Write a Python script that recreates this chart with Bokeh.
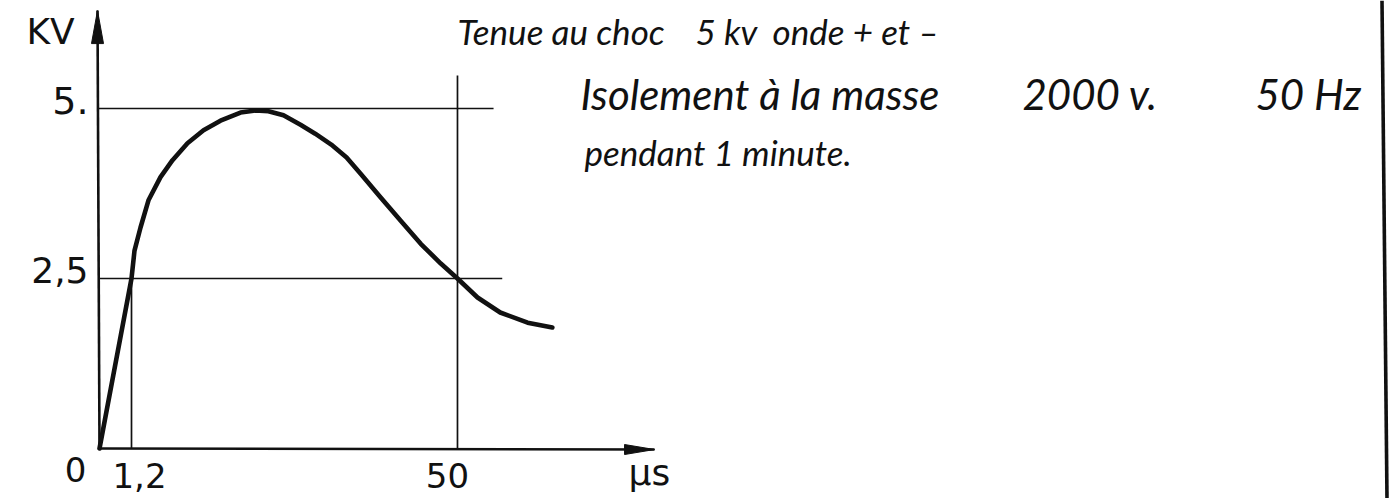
from bokeh.plotting import figure
from bokeh.models import Range1d, Label
from bokeh.embed import file_html
from bokeh.resources import INLINE

# ---------------- data ----------------
# impulse wave: time in microseconds, voltage in kV
t_us = [0, 1.2, 1.65, 2.55, 3.74, 5.54, 7.34, 9.58, 11.98, 14.52, 17.52, 19.76,
        21.7, 23.95, 26.5, 28.7, 31.1, 33.4, 35.5, 38.5, 41.5, 44.5, 47.5, 50.0,
        53.0, 56.4, 60.5, 64.2]
kv = [0, 2.5, 2.91, 3.25, 3.65, 3.99, 4.24, 4.49, 4.68, 4.82, 4.94, 4.97,
      4.96, 4.90, 4.76, 4.63, 4.47, 4.28, 4.04, 3.69, 3.35, 3.01, 2.72, 2.5,
      2.22, 2.0, 1.85, 1.78]

x_ticks = [0, 1.2, 50]
x_tick_labels = ["0", "1,2", "50"]
y_ticks = [2.5, 5]
y_tick_labels = ["2,5", "5."]
x_unit = "\u00b5s"
y_unit = "KV"

notes_line1 = ["Tenue au choc", "5 kv", "onde + et \u2013"]
notes_line2 = ["Isolement \u00e0 la masse", "2000 v.", "50 Hz"]
notes_line3 = ["pendant 1 minute."]

# ---------------- schematic (non-linear) time scale ----------------
FRONT_W = 32.0      # drawing width of the 0 .. 1.2 us front
TAIL_K = 6.68       # drawing units per us after 1.2 us
PX_PER_KV = 68.0


def pos(t):
    if t <= 1.2:
        return t / 1.2 * FRONT_W
    return FRONT_W + (t - 1.2) * TAIL_K


W, H = 1398, 498
X0, Y0 = 99, 448     # where the origin sits in the drawing
p = figure(width=W, height=H, output_backend="svg", toolbar_location=None,
           x_range=Range1d(-X0, W - X0),
           y_range=Range1d(-(H - Y0) / PX_PER_KV, Y0 / PX_PER_KV),
           x_axis_type=None, y_axis_type=None, min_border=0)
p.outline_line_color = None
p.xgrid.visible = False
p.ygrid.visible = False
p.background_fill_color = "white"
p.border_fill_color = "white"

INK = "#111111"

# guide lines at 5 and 2.5 kV, verticals at 1.2 and 50 us
p.segment(x0=[pos(0) - 2, pos(0)], y0=[5, 2.5], x1=[pos(55.4), pos(56.7)], y1=[5, 2.5],
          line_color=INK, line_width=1.7)
p.segment(x0=[pos(1.2), pos(50)], y0=[0, 0], x1=[pos(1.2), pos(50)], y1=[2.5, 5.485],
          line_color=INK, line_width=1.7)

# axes
Y_TOP = 6.44
X_END = pos(79.5)
p.segment(x0=[pos(0), pos(0)], y0=[0, 0], x1=[pos(0) - 2, X_END], y1=[Y_TOP, -0.015],
          line_color=INK, line_width=2.6)
# slim arrow heads
hl, hw = 33.0, 6.0
p.patch([pos(0) - 2 - hw, pos(0) - 2, pos(0) - 2 + hw],
        [Y_TOP - hl / PX_PER_KV, Y_TOP, Y_TOP - hl / PX_PER_KV],
        fill_color=INK, line_color=INK, line_width=1)
p.patch([X_END - 30, X_END, X_END - 30],
        [-0.015 + 5 / PX_PER_KV, -0.015, -0.015 - 5 / PX_PER_KV],
        fill_color=INK, line_color=INK, line_width=1)

# the wave
p.line([pos(t) for t in t_us], kv, line_color=INK, line_width=4.6,
       line_join="round", line_cap="round")

# right frame border (slightly slanted, as drawn)
p.segment(x0=[1381.5 - X0], y0=[Y0 / PX_PER_KV], x1=[1386.5 - X0], y1=[-(H - Y0) / PX_PER_KV],
          line_color=INK, line_width=3.6)

LBL_FONT = "DejaVu Sans"
NOTE_FONT = "Lato"


def lab(text, X, Yc, size, font=LBL_FONT, style="normal", align="left"):
    # X: anchor on the drawing (pixels from the left); Yc: vertical middle of the text
    p.add_layout(Label(x=X, y=H - Yc, x_units="screen", y_units="screen", text=text,
                       text_font=font, text_font_size=f"{size}px", text_font_style=style,
                       text_color=INK, text_align=align, text_baseline="middle"))


# axis units
lab(y_unit, 26, 31, 36)
lab(x_unit, 628, 472, 36)

# y tick labels, right aligned just left of the axis
for v, s, sz in zip(y_ticks, y_tick_labels, [36, 38]):
    lab(s, X0 - 11, Y0 - v * PX_PER_KV - 8.5, sz, align="right")

# x tick labels
x_shift = {"0": -24, "1,2": 8, "50": -10}
x_mid = {"0": 469, "1,2": 475, "50": 475}
for t, s in zip(x_ticks, x_tick_labels):
    lab(s, X0 + pos(t) + x_shift[s], x_mid[s], 34, align="center")

# notes
for s, X in zip(notes_line1, [457, 695, 772]):
    lab(s, X, 30, 35, font=NOTE_FONT, style="italic")
for s, X in zip(notes_line2, [580, 1022, 1255]):
    lab(s, X, 93, 42, font=NOTE_FONT, style="italic")
for s, X in zip(notes_line3, [584]):
    lab(s, X, 151, 35, font=NOTE_FONT, style="italic")

open("out.html", "w").write(file_html(p, INLINE))
